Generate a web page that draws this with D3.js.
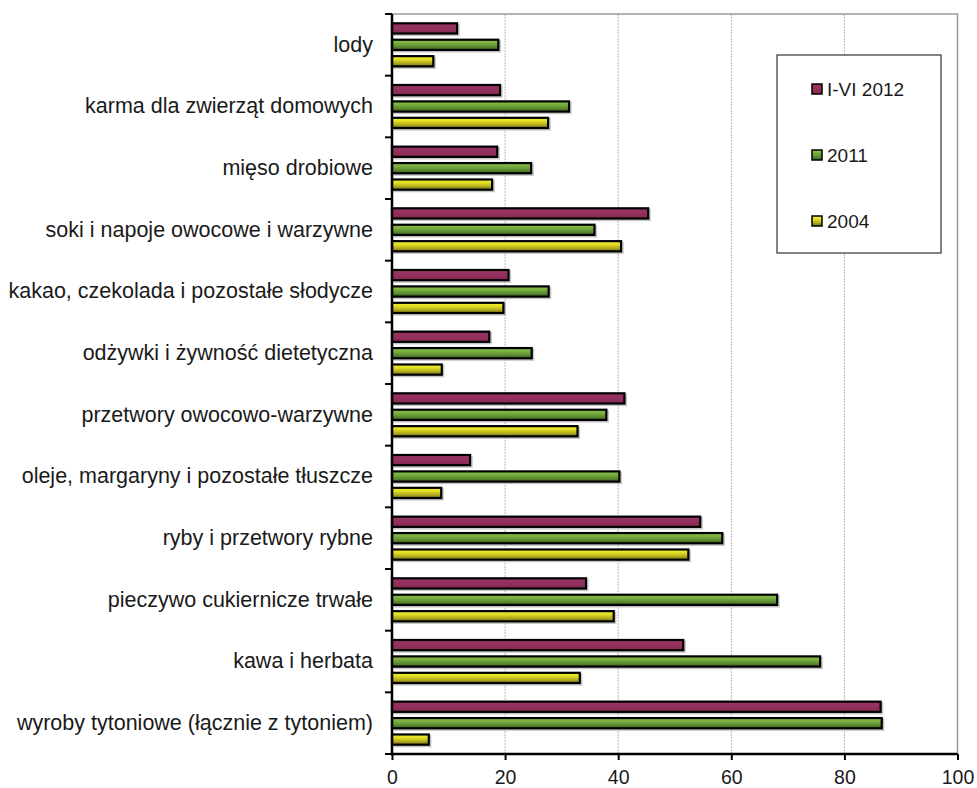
<!DOCTYPE html>
<html>
<head>
<meta charset="utf-8">
<script src="https://cdn.jsdelivr.net/npm/d3@7"></script>
<style>
  html, body { margin: 0; padding: 0; background: #fff; }
  svg { display: block; font-family: "Liberation Sans", Arial, sans-serif; }
</style>
</head>
<body>
<svg id="chart" width="977" height="788"></svg>
<script>
// Product groups, listed top to bottom
const categories = [
  "lody",
  "karma dla zwierząt domowych",
  "mięso drobiowe",
  "soki i napoje owocowe i warzywne",
  "kakao, czekolada i pozostałe słodycze",
  "odżywki i żywność dietetyczna",
  "przetwory owocowo-warzywne",
  "oleje, margaryny i pozostałe tłuszcze",
  "ryby i przetwory rybne",
  "pieczywo cukiernicze trwałe",
  "kawa i herbata",
  "wyroby tytoniowe (łącznie z tytoniem)"
];

const seriesNames = ["I-VI 2012", "2011", "2004"];

const values2012H1 = [11.7, 19.3, 18.8, 45.5, 20.8, 17.4, 41.3, 14.0, 54.7, 34.5, 51.7, 86.6];
const values2011   = [19.0, 31.5, 24.8, 36.0, 27.9, 24.9, 38.1, 40.4, 58.6, 68.3, 75.9, 86.8];
const values2004   = [7.5, 27.8, 17.9, 40.7, 19.9, 9.0, 33.0, 8.9, 52.6, 39.4, 33.4, 6.7];

const xTicks = [0, 20, 40, 60, 80, 100];

const seriesValues = [values2012H1, values2011, values2004];

const svg = d3.select("#chart");

const plot = { left: 392, right: 957.5, top: 14, bottom: 754 };

const x = d3.scaleLinear().domain([0, 100]).range([plot.left, plot.right]);
const y0 = d3.scaleBand().domain(categories).range([plot.top, plot.bottom]).padding(0);
const y1 = d3.scaleBand().domain(seriesNames).range([0, y0.bandwidth()])
  .paddingInner(0.244).paddingOuter(0.5);

// Gradients for the bar fills
const defs = svg.append("defs");
function vGrad(id, stops) {
  const g = defs.append("linearGradient").attr("id", id)
    .attr("x1", 0).attr("y1", 0).attr("x2", 0).attr("y2", 1);
  stops.forEach(([o, c]) => g.append("stop").attr("offset", o).attr("stop-color", c));
}
vGrad("gMag", [[0, "#9a3566"], [0.5, "#93305e"], [1, "#84294f"]]);
vGrad("gGreen", [[0, "#8cc24a"], [0.35, "#78ad3e"], [0.7, "#5a8a30"], [1, "#3a5a22"]]);
vGrad("gYellow", [[0, "#f2f232"], [0.35, "#e0dc24"], [0.7, "#b0a81e"], [1, "#6e6a18"]]);
const fills = { "I-VI 2012": "url(#gMag)", "2011": "url(#gGreen)", "2004": "url(#gYellow)" };

// Vertical gridlines
svg.append("g").selectAll("line")
  .data(xTicks.filter(t => t > 0 && t < 100))
  .join("line")
  .attr("x1", d => x(d)).attr("x2", d => x(d))
  .attr("y1", plot.top).attr("y2", plot.bottom)
  .attr("stroke", "#b8b8b8").attr("stroke-width", 1)
  .attr("stroke-dasharray", "2,1");

// Plot border (top and right)
svg.append("path")
  .attr("d", `M${plot.left},${plot.top}H${plot.right}V${plot.bottom}`)
  .attr("fill", "none").attr("stroke", "#9a9a9a").attr("stroke-width", 1.5);

// Bars
const bars = [];
categories.forEach((c, ci) => {
  seriesNames.forEach((s, si) => {
    bars.push({ cat: c, series: s, value: seriesValues[si][ci] });
  });
});

const barG = svg.append("g");
// soft shadow
barG.selectAll("rect.shadow").data(bars).join("rect")
  .attr("class", "shadow")
  .attr("x", x(0) + 1.5)
  .attr("y", d => y0(d.cat) + y1(d.series) + 1.5)
  .attr("width", d => x(d.value) - x(0))
  .attr("height", y1.bandwidth())
  .attr("fill", "#a0a0a0").attr("opacity", 0.6);

barG.selectAll("rect.bar").data(bars).join("rect")
  .attr("class", "bar")
  .attr("x", x(0))
  .attr("y", d => y0(d.cat) + y1(d.series) + 1.1)
  .attr("width", d => x(d.value) - x(0) - 1.1)
  .attr("height", y1.bandwidth() - 2.2)
  .attr("fill", d => fills[d.series])
  .attr("stroke", "#000").attr("stroke-width", 2.2);

// Category axis
const yAxis = svg.append("g")
  .attr("transform", `translate(${plot.left},0)`)
  .call(d3.axisLeft(y0).tickSize(0).tickPadding(19));
yAxis.select(".domain").remove();
yAxis.selectAll("text")
  .attr("font-size", 21.5).attr("fill", "#1a1a1a")
  .attr("font-family", "Liberation Sans, Arial, sans-serif");

// Group boundary ticks
const bounds = categories.map(c => y0(c)).concat([plot.bottom]);
svg.append("g").selectAll("line").data(bounds).join("line")
  .attr("x1", plot.left - 7).attr("x2", plot.left)
  .attr("y1", d => d).attr("y2", d => d)
  .attr("stroke", "#000").attr("stroke-width", 2);

// Value axis
const xAxis = svg.append("g")
  .attr("transform", `translate(0,${plot.bottom})`)
  .call(d3.axisBottom(x).tickValues(xTicks).tickSize(6).tickPadding(10));
xAxis.select(".domain").remove();
xAxis.selectAll(".tick line").attr("stroke", "#000").attr("stroke-width", 2);
xAxis.selectAll("text")
  .attr("font-size", 19.5).attr("fill", "#1a1a1a")
  .attr("font-family", "Liberation Sans, Arial, sans-serif");

// Axis lines
svg.append("line")
  .attr("x1", plot.left).attr("x2", plot.left)
  .attr("y1", plot.top).attr("y2", plot.bottom + 1.5)
  .attr("stroke", "#000").attr("stroke-width", 2.5);
svg.append("line")
  .attr("x1", plot.left - 1).attr("x2", plot.right)
  .attr("y1", plot.bottom).attr("y2", plot.bottom)
  .attr("stroke", "#000").attr("stroke-width", 2.5);

// Legend
const legend = svg.append("g");
legend.append("rect")
  .attr("x", 777).attr("y", 55).attr("width", 164).attr("height", 198)
  .attr("fill", "#fff").attr("stroke", "#333").attr("stroke-width", 1.2);
const legendY = [89, 155, 221];
const items = legend.selectAll("g.item").data(seriesNames).join("g")
  .attr("class", "item")
  .attr("transform", (d, i) => `translate(812,${legendY[i]})`);
items.append("rect")
  .attr("x", 0).attr("y", -5).attr("width", 10).attr("height", 10)
  .attr("fill", d => fills[d]).attr("stroke", "#000").attr("stroke-width", 1.5);
items.append("text")
  .attr("x", 15).attr("y", 0).attr("dy", "0.35em")
  .attr("font-size", 19).attr("fill", "#1a1a1a")
  .text(d => d);
</script>
</body>
</html>
